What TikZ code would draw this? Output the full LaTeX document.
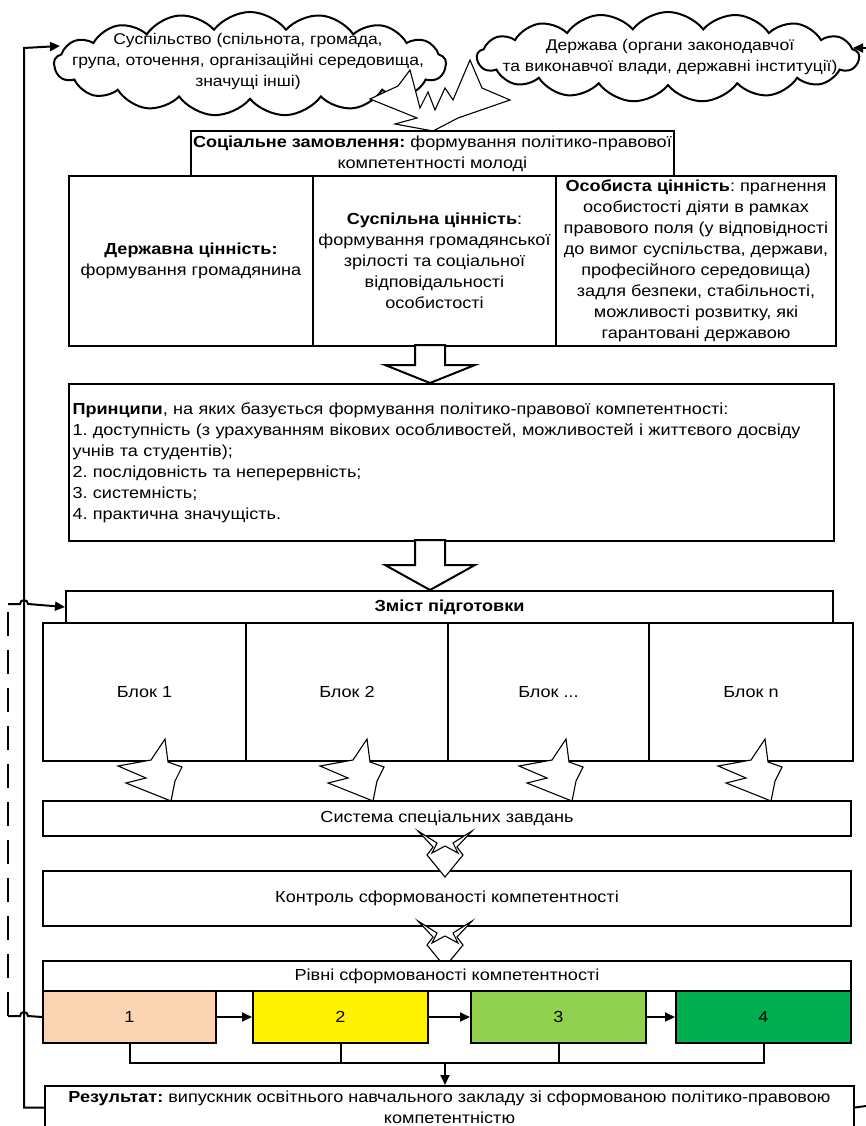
\documentclass[tikz,border=0pt]{standalone}
\usepackage{fontspec}
\setmainfont{Liberation Sans}[FakeStretch=1.13]
\usetikzlibrary{shapes.symbols,arrows.meta}
\AtBeginDocument{\frenchspacing}
\newcommand\starbolt[1]{\draw[bolt, shift={(#1,739)}] (47,0) -- (33,21) -- (0,27) -- (28,39) -- (8,44) -- (53,62) -- (57,42) -- (64,28) -- (50,23) -- cycle;}
\newcommand\zigchev[1]{\draw[bolt, shift={(445,#1)}] (-27,0) -- (-12,16) -- (-18,24) -- (0,46) -- (18,24) -- (12,16) -- (27,0) -- (8,12) -- (13,22) -- (0,15) -- (-13,22) -- (-8,12) -- cycle;}
\begin{document}
\begin{tikzpicture}[x=1pt,y=-1pt,
  box/.style={draw, line width=2pt, fill=white, inner sep=2pt, anchor=north west, font=\fontsize{16}{21}\selectfont, align=center},
  conn/.style={line width=2pt},
  tip/.style={-{Triangle[length=10pt,width=9pt]}},
  bolt/.style={draw, line width=1.1pt, fill=white, line join=miter},
  blockarrow/.style={draw, line width=2pt, fill=white},
  cloudbox/.style={cloud, draw, line width=2pt, fill=white, cloud puffs=17, cloud puff arc=105, cloud ignores aspect, inner sep=0pt},
  ctext/.style={font=\fontsize{15.5}{21}\selectfont, align=center}]
\useasboundingbox (0,0) rectangle (865,1126);

% clouds
\node[cloudbox, minimum width=392pt, minimum height=104pt] (cloud1) at (250,64) {};
\node[cloudbox, minimum width=382pt, minimum height=90pt] (cloud2) at (668,57) {};
% explosion between clouds and social order
\draw[bolt] (370,99) -- (417,118) -- (395,124) -- (433,131) -- (458,118) -- (510,100) -- (482,88) -- (470,60) -- (453,100) -- (445,88) -- (435,110) -- (428,92) -- (420,108) -- (410,70) -- (398,86) -- cycle;
\node[ctext] (cloud1t) at (248,61) {Суспільство (спільнота, громада,\\група, оточення, організаційні середовища,\\значущі інші)};
\node[ctext] (cloud2t) at (670,57) {Держава (органи законодавчої\\та виконавчої влади, державні інституції)};

% social order
\node[box, minimum width=480pt, minimum height=45pt] (order) at (190,130) {\textbf{Соціальне замовлення:} формування політико-правової\\компетентності молоді};

% values
\node[box, minimum width=244pt, minimum height=170pt] (val1) at (68,175) {\textbf{Державна цінність:}\\формування громадянина};
\node[box, minimum width=243pt, minimum height=170pt] (val2) at (312,175) {\textbf{Суспільна цінність}:\\формування громадянської\\зрілості та соціальної\\відповідальності\\особистості};
\node[box, minimum width=280pt, minimum height=170pt, inner sep=0pt] (val3) at (555,175) {\textbf{Особиста цінність}: прагнення\\особистості діяти в рамках\\правового поля (у відповідності\\до вимог суспільства, держави,\\професійного середовища)\\задля безпеки, стабільності,\\можливості розвитку, які\\гарантовані державою};

% block arrow 1
\draw[blockarrow] (415,345) -- (445,345) -- (445,365) -- (475,365) -- (430,383) -- (385,365) -- (415,365) -- cycle;

% principles
\node[box, minimum width=765pt, minimum height=157pt, align=left, text width=758pt, inner sep=1pt] (princ) at (68,383) {\textbf{Принципи}, на яких базується формування політико-правової компетентності:\\1. доступність (з урахуванням вікових особливостей, можливостей і життєвого досвіду\\учнів та студентів);\\2. послідовність та неперервність;\\3. системність;\\4. практична значущість.};

% block arrow 2
\draw[blockarrow] (415,540) -- (445,540) -- (445,565) -- (475,565) -- (430,590) -- (385,565) -- (415,565) -- cycle;

% content
\node[box, minimum width=767pt, minimum height=32pt] (zmist) at (65,590) {\textbf{Зміст підготовки}};
\node[box, minimum width=203pt, minimum height=138pt] (b1) at (42,622) {Блок 1};
\node[box, minimum width=202pt, minimum height=138pt] (b2) at (245,622) {Блок 2};
\node[box, minimum width=201pt, minimum height=138pt] (b3) at (447,622) {Блок ...};
\node[box, minimum width=204pt, minimum height=138pt] (b4) at (648,622) {Блок n};

\node[box, minimum width=808pt, minimum height=35pt] (sys) at (42,800) {Система спеціальних завдань};
\starbolt{118}
\starbolt{320}
\starbolt{519}
\starbolt{718}

\node[box, minimum width=808pt, minimum height=55pt] (ctrl) at (42,870) {Контроль сформованості компетентності};
\zigchev{831}
\zigchev{921}

\node[box, minimum width=808pt, minimum height=30pt] (lev) at (42,960) {Рівні сформованості компетентності};
\node[box, minimum width=173pt, minimum height=52pt, fill={rgb,255:red,251;green,212;blue,180}] (l1) at (42,990) {1};
\node[box, minimum width=175pt, minimum height=52pt, fill=yellow] (l2) at (252,990) {2};
\node[box, minimum width=175pt, minimum height=52pt, fill={rgb,255:red,146;green,208;blue,80}] (l3) at (470,990) {3};
\node[box, minimum width=175pt, minimum height=52pt, fill={rgb,255:red,0;green,176;blue,80}] (l4) at (675,990) {4};
\draw[conn, tip] (l1) -- (l2);
\draw[conn, tip] (l2) -- (l3);
\draw[conn, tip] (l3) -- (l4);

% result
\node[box, minimum width=809pt, minimum height=43pt] (res) at (44,1085) {\textbf{Результат:} випускник освітнього навчального закладу зі сформованою політико-правовою\\компетентністю};

% bracket
\coordinate (brk) at (445,1063);
\draw[conn] (l1.south) -- (l1.south |- brk) -- (l4.south |- brk) -- (l4.south);
\draw[conn] (l2.south) -- (l2.south |- brk);
\draw[conn] (l3.south) -- (l3.south |- brk);
\draw[conn, tip] (brk) -- (brk |- res.north);

% left loop
\coordinate (lcorner) at (24,48);
\coordinate (c1in) at (60,46);
\draw[conn, tip] (res.west) -- (res.west -| lcorner) -- (lcorner) -- (c1in);
% right loop
\coordinate (rout) at (866,1106);
\coordinate (rin) at (866,48);
\coordinate (c2in) at (853,48);
\draw[conn] (res.east) -- (rout);
\draw[conn, tip] (rin) -- (c2in);

% feedback
\coordinate (fb1) at (8,1016);
\coordinate (fb2) at (8,604);
\draw[conn] (l1.west) -- (28,1016) arc (0:-180:4) -- (fb1);
\draw[line width=2.8pt, dash pattern=on 24pt off 14pt] (fb1) -- (fb2);
\draw[conn, tip] (fb2) -- (20,604) arc (180:360:4) -- (zmist.west);
\end{tikzpicture}
\end{document}
